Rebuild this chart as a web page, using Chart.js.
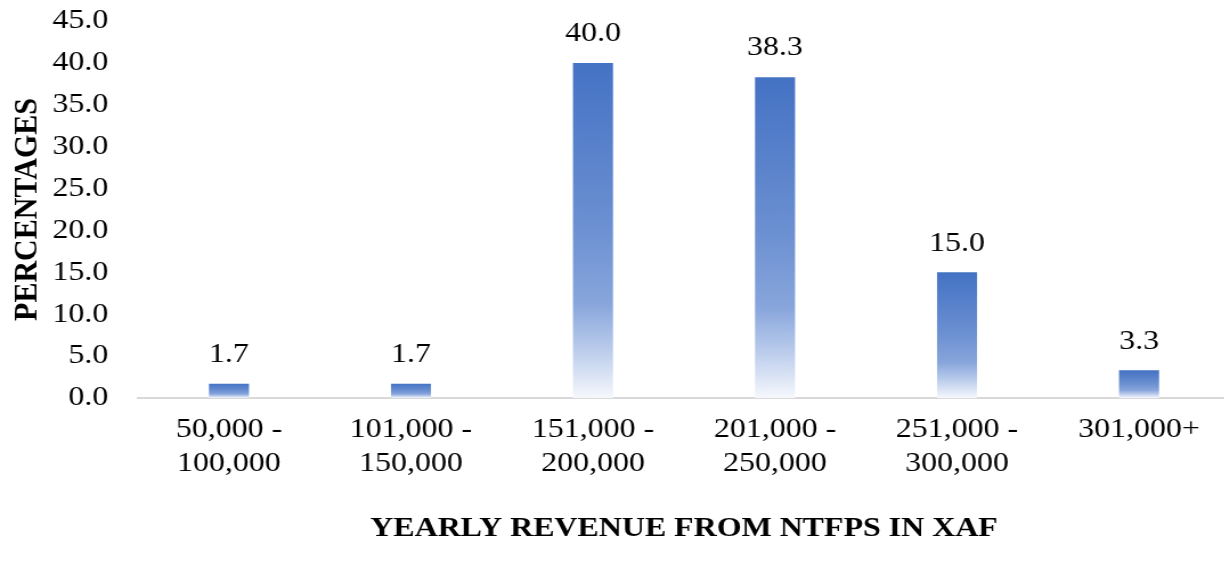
<!DOCTYPE html>
<html>
<head>
<meta charset="utf-8">
<script src="https://cdn.jsdelivr.net/npm/chart.js@4/dist/chart.umd.min.js"></script>
<style>
  html, body { margin: 0; padding: 0; background: #fff; overflow: hidden; }
  #wrap { width: 1081px; height: 562px; transform: scaleX(1.14); transform-origin: 0 0; }
</style>
</head>
<body>
<div id="wrap"><canvas id="chart" width="1081" height="562"></canvas></div>
<script>
// ---- data ----
const categories = [
  ["50,000 -", "100,000"],
  ["101,000 -", "150,000"],
  ["151,000 -", "200,000"],
  ["201,000 -", "250,000"],
  ["251,000 -", "300,000"],
  ["301,000+"]
];
const percentages = [1.7, 1.7, 40.0, 38.3, 15.0, 3.3];
const yTicks = [0, 5, 10, 15, 20, 25, 30, 35, 40, 45];

const FONT = "'Liberation Serif', 'Times New Roman', serif";

// gradient per bar: blue at the top, fading to white at the base
function barFill(context) {
  const chart = context.chart;
  if (!chart.chartArea || !chart.scales.y) return "#4472C4";
  const y = chart.scales.y;
  const top = y.getPixelForValue(context.raw);
  const bottom = y.getPixelForValue(0);
  if (!isFinite(top) || bottom - top < 1) return "#4472C4";
  const g = chart.ctx.createLinearGradient(0, top, 0, bottom);
  g.addColorStop(0, "#4472C4");
  g.addColorStop(0.5, "#6D91D2");
  g.addColorStop(0.72, "#88A6DC");
  g.addColorStop(0.86, "#BCCDEC");
  g.addColorStop(1, "#F6F8FD");
  return g;
}

// value labels above the bars
const valueLabels = {
  id: "valueLabels",
  afterDatasetsDraw(chart) {
    const c = chart.ctx;
    const meta = chart.getDatasetMeta(0);
    c.save();
    c.font = "28px " + FONT;
    c.fillStyle = "#000";
    c.textAlign = "center";
    c.textBaseline = "middle";
    meta.data.forEach((bar, i) => {
      c.fillText(percentages[i].toFixed(1), bar.x, bar.y - 29);
    });
    c.restore();
  }
};

new Chart(document.getElementById("chart"), {
  type: "bar",
  data: {
    labels: categories,
    datasets: [{
      data: percentages,
      backgroundColor: barFill,
      borderWidth: 0,
      barPercentage: 0.22,
      categoryPercentage: 1.0
    }]
  },
  options: {
    responsive: false,
    animation: false,
    layout: { padding: { top: 21, right: 2, left: 0, bottom: 0 } },
    plugins: { legend: { display: false }, tooltip: { enabled: false } },
    scales: {
      x: {
        grid: { display: false, drawTicks: false },
        border: { display: true, color: "#D9D9D9", width: 2 },
        ticks: {
          color: "#000", padding: 15, maxRotation: 0, autoSkip: false,
          font: { family: FONT, size: 28, lineHeight: 1.2 }
        },
        title: {
          display: true, text: "YEARLY REVENUE FROM NTFPS IN XAF", color: "#000",
          font: { family: FONT, size: 28, weight: "bold", lineHeight: 1.2 },
          padding: { top: 0, bottom: 16 }
        },
        afterFit(scale) { scale.height = 164; scale.paddingLeft = 0; scale.paddingRight = 0; }
      },
      y: {
        min: 0, max: 45,
        afterBuildTicks(scale) { scale.ticks = yTicks.map(v => ({ value: v })); },
        grid: { display: false, drawTicks: false },
        border: { display: false },
        ticks: {
          color: "#000", padding: 26,
          font: { family: FONT, size: 28 },
          callback: v => Number(v).toFixed(1)
        },
        title: {
          display: true, text: "PERCENTAGES", color: "#000",
          font: { family: FONT, size: 30, weight: "bold", lineHeight: 1.2 },
          padding: { top: 6, bottom: 0 }
        },
        afterFit(scale) { scale.width = 121; scale.paddingTop = 0; scale.paddingBottom = 0; }
      }
    }
  },
  plugins: [valueLabels]
});
</script>
</body>
</html>
